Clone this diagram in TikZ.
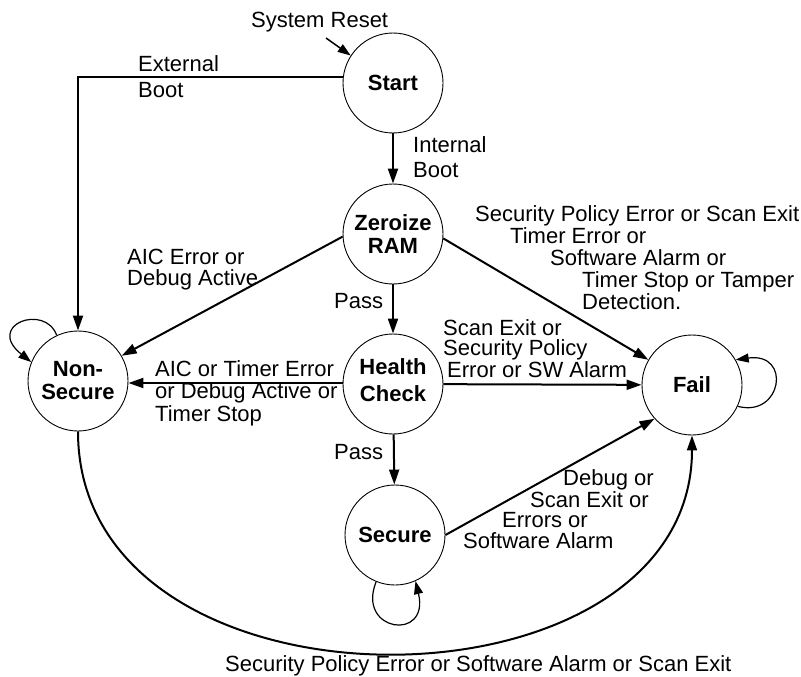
\documentclass[tikz,border=0pt]{standalone}
\usepackage{fontspec}
\setmainfont{Liberation Sans}
\usetikzlibrary{arrows.meta}
\begin{document}
\begin{tikzpicture}[x=1pt,y=-1pt,
  state/.style={circle,draw,line width=0.9pt,minimum size=100pt,inner sep=0pt,
    align=center,font=\fontsize{22}{23}\selectfont\bfseries},
  trans/.style={line width=2pt,-{Triangle[length=15pt,width=10pt]}},
  selfloop/.style={line width=1.2pt,-{Triangle[length=13pt,width=9pt]}},
  % multi-line labels are placed by the baseline of their last line
  lbl/.style={inner sep=0pt,align=left,anchor=base west,
    font=\fontsize{22}{22}\selectfont},
]
\useasboundingbox (0,0) rectangle (801,677);

% states
\node[state] (start)   at (393,83)  {Start};
\node[state] (zeroize) at (393,234) {Zeroize\\RAM};
\node[state] (health)  at (393,384) {\raisebox{8pt}{\shortstack{Health\\[7pt]Check}}};
\node[state] (secure)  at (395,535) {Secure};
\node[state] (nonsec)  at (78,381)  {Non-\\Secure};
\node[state] (fail)    at (692,385) {Fail};

% reset entry
\coordinate (reset) at (326,38);
\draw[line width=1.5pt,-{Triangle[length=13pt,width=9pt]}] (reset) -- (start.147);
\node[lbl] (resetlbl) at (251,28) {System Reset};

% transitions
\draw[trans] (start.173) -| (nonsec.north);
\node[lbl,font=\fontsize{22}{25}\selectfont] (extlbl) at (138,97) {External\\Boot};

\draw[trans] (start) -- (zeroize);
\node[lbl,font=\fontsize{22}{25}\selectfont] (intlbl) at (413,177) {Internal\\Boot};

\draw[trans] (zeroize.183) -- (nonsec.30);
\node[lbl,font=\fontsize{22}{20.5}\selectfont] (aiclbl) at (127,285) {AIC Error or\\Debug Active};

\draw[trans] (zeroize.-5) -- (fail.150);
\node[lbl] (zflbl) at (475,309)
  {Security Policy Error or Scan Exit\\
   \hspace*{35pt}Timer Error or\\
   \hspace*{75pt}Software Alarm or\\
   \hspace*{107pt}Timer Stop or Tamper\\
   \hspace*{107pt}Detection.};

\draw[trans] (zeroize) -- (health);
\node[lbl] (pass1) at (334,308) {Pass};

\draw[trans] (health.west |- 0,383) -- (nonsec.east |- 0,383);
\node[lbl,font=\fontsize{22}{22.5}\selectfont] (hnlbl) at (155,421)
  {AIC or Timer Error\\or Debug Active or\\Timer Stop};

\draw[trans] (health) -- (fail);
\node[lbl,font=\fontsize{22}{20}\selectfont] (hflbl) at (443,377)
  {Scan Exit or\\Security Policy\\\hspace*{4pt}Error or SW Alarm};

\draw[trans] (health) -- (secure);
\node[lbl] (pass2) at (334,459) {Pass};

\draw[trans] (secure.east) -- (fail.-138);
\node[lbl,font=\fontsize{22}{20.5}\selectfont] (sflbl) at (463,548)
  {\hspace*{100pt}Debug or\\
   \hspace*{67pt}Scan Exit or\\
   \hspace*{39pt}Errors or\\
   Software Alarm};

\draw[trans] (nonsec.south) .. controls (78,728) and (692,724) .. (fail.south);
\node[lbl] (nflbl) at (225,671) {Security Policy Error or Software Alarm or Scan Exit};

% self loops
\draw[selfloop] (nonsec.115) .. controls (45,303) and (-15,325) .. (nonsec.158);
\draw[selfloop] (fail.-25) .. controls (782,418) and (792,352) .. (fail.30);
\draw[selfloop] (secure.-112) .. controls (356,632) and (430,642) .. (secure.-66);
\end{tikzpicture}
\end{document}
